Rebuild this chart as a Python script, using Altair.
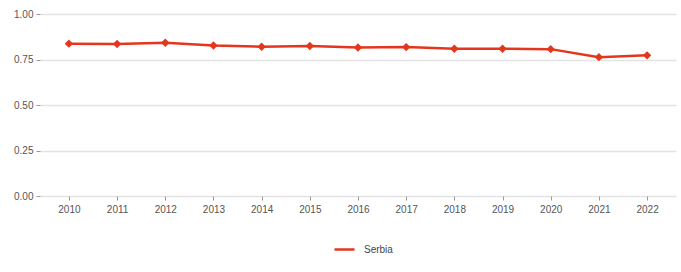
import altair as alt
import pandas as pd

years = ["2010", "2011", "2012", "2013", "2014", "2015", "2016", "2017",
         "2018", "2019", "2020", "2021", "2022"]
values = [0.837, 0.835, 0.842, 0.827, 0.820, 0.824, 0.816, 0.818,
          0.809, 0.809, 0.807, 0.763, 0.773]
series = ["Serbia"] * len(years)

df = pd.DataFrame({"year": years, "value": values, "country": series})

cscale = alt.Scale(domain=["Serbia"], range=["#e4361d"])
color = alt.Color("country:N", scale=cscale,
                  legend=alt.Legend(title=None, orient="none", legendX=293, legendY=224,
                                    symbolType="stroke", symbolStrokeWidth=2.5, symbolSize=400,
                                    labelOffset=8,
                                    labelFont="Liberation Sans", labelFontSize=10,
                                    labelColor="#444444", direction="horizontal"))

x = alt.X("year:O", title=None,
          scale=alt.Scale(type="point", padding=0.6),
          axis=alt.Axis(labelAngle=0, domain=False, grid=False, tickColor="#999999",
                        tickSize=4, labelPadding=4, labelFont="Liberation Sans",
                        labelFontSize=10, labelColor="#555555"))
y = alt.Y("value:Q", title=None,
          scale=alt.Scale(domain=[0, 1], nice=False),
          axis=alt.Axis(values=[0, 0.25, 0.5, 0.75, 1.0], format=".2f", domain=False,
                        gridColor="#e3e3e3", gridWidth=1.5, tickColor="#999999",
                        tickSize=4, labelPadding=3, labelFont="Liberation Sans",
                        labelFontSize=10, labelColor="#555555"))

line = alt.Chart(df).mark_line(strokeWidth=2.5).encode(x=x, y=y, color=color)
pts = alt.Chart(df).mark_point(shape="diamond", filled=True, size=70, opacity=1).encode(
    x=x, y=y, color=alt.Color("country:N", scale=cscale, legend=None))

chart = alt.layer(line, pts).properties(
    width=636, height=182,
    autosize=alt.AutoSizeParams(type="none"),
    padding={"left": 40, "top": 14, "right": 5, "bottom": 76},
).configure(background="white").configure_view(stroke=None)

chart.save("out.html", embed_options={"renderer": "svg", "actions": False})
